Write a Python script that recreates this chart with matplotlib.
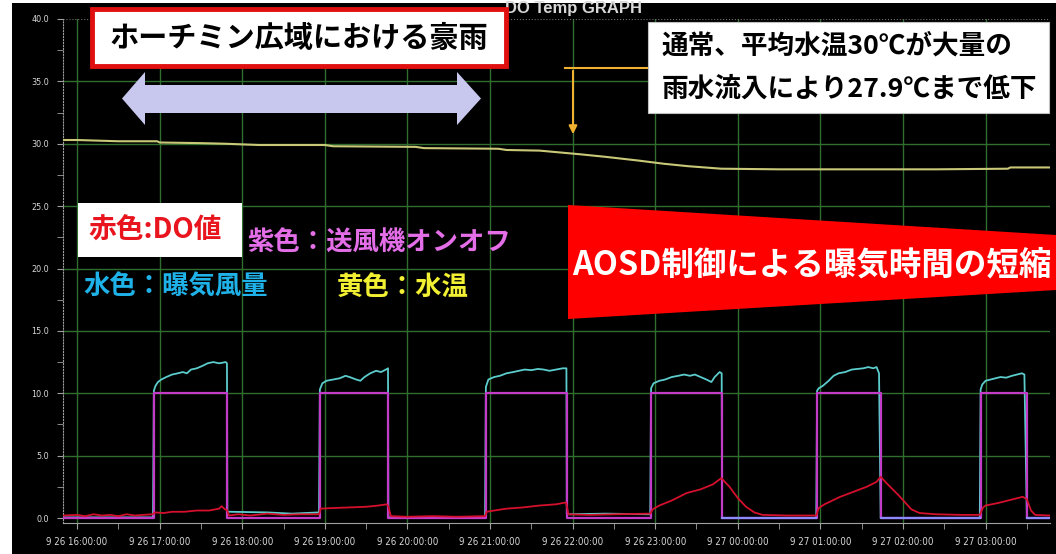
import numpy as np
import matplotlib
matplotlib.use('Agg')
import matplotlib.pyplot as plt
from matplotlib.patches import Rectangle, Polygon

plt.rcParams['font.family'] = ['Noto Sans CJK JP', 'DejaVu Sans']

# hours counted from 9/26 16:00
hour_ticks = list(range(12))
tick_labels = ['9 26 16:00:00', '9 26 17:00:00', '9 26 18:00:00', '9 26 19:00:00',
               '9 26 20:00:00', '9 26 21:00:00', '9 26 22:00:00', '9 26 23:00:00',
               '9 27 00:00:00', '9 27 01:00:00', '9 27 02:00:00', '9 27 03:00:00']

# blower on/off switching times
fan_on = [0.93, 2.94, 4.95, 6.95, 8.96, 10.94]
fan_off = [1.82, 3.77, 5.93, 7.81, 9.73, 11.50]
fan_level = 10.0

# aeration air flow
air_hours = [-0.17, 0.92,
             0.93, 0.95, 0.98, 1.02, 1.08, 1.15, 1.22, 1.28, 1.33, 1.38, 1.45, 1.52, 1.58, 1.65, 1.72, 1.80, 1.815,
             1.82, 1.85, 2.30, 2.60, 2.93,
             2.94, 2.97, 3.02, 3.10, 3.18, 3.25, 3.30, 3.38, 3.43, 3.48, 3.55, 3.62, 3.68, 3.74, 3.765,
             3.77, 3.80, 4.94,
             4.95, 4.98, 5.05, 5.12, 5.20, 5.28, 5.35, 5.42, 5.50, 5.58, 5.65, 5.72, 5.80, 5.88, 5.925,
             5.93, 5.96, 6.40, 6.94,
             6.95, 6.98, 7.05, 7.12, 7.20, 7.28, 7.35, 7.42, 7.48, 7.55, 7.62, 7.68, 7.72, 7.78, 7.805,
             7.81, 8.00, 8.95,
             8.96, 8.98, 9.03, 9.10, 9.16, 9.22, 9.30, 9.38, 9.45, 9.52, 9.58, 9.64, 9.68, 9.71,
             9.73, 10.00, 10.93,
             10.94, 10.96, 11.00, 11.06, 11.12, 11.18, 11.25, 11.32, 11.38, 11.44, 11.47,
             11.50, 11.78]
air_values = [0.05, 0.05,
              10.2, 10.6, 10.9, 11.1, 11.3, 11.5, 11.6, 11.7, 11.6, 11.9, 12.0, 12.2, 12.4, 12.5, 12.4, 12.5, 12.4,
              0.5, 0.5, 0.45, 0.35, 0.45,
              10.3, 10.8, 11.0, 11.1, 11.2, 11.4, 11.3, 11.1, 11.0, 11.3, 11.6, 11.8, 11.7, 11.9, 12.0,
              0.05, 0.05, 0.05,
              10.5, 11.1, 11.3, 11.4, 11.6, 11.7, 11.8, 11.9, 11.85, 11.95, 11.9, 11.8, 11.9, 12.0, 12.0,
              0.3, 0.3, 0.35, 0.3,
              10.4, 10.8, 11.0, 11.1, 11.3, 11.4, 11.5, 11.4, 11.5, 11.3, 11.1, 10.9, 11.3, 11.7, 11.6,
              0.0, 0.0, 0.0,
              10.2, 10.4, 10.6, 11.0, 11.4, 11.6, 11.7, 11.9, 11.95, 12.0, 12.1, 12.0, 12.1, 11.6,
              0.0, 0.0, 0.0,
              10.3, 10.7, 11.0, 11.1, 11.2, 11.3, 11.25, 11.4, 11.5, 11.6, 11.5,
              0.0, 0.0]

# dissolved oxygen
do_hours = [-0.17, 0.0, 0.1, 0.2, 0.3, 0.4, 0.5, 0.6, 0.7, 0.8, 0.92,
            0.94, 1.05, 1.15, 1.3, 1.45, 1.6, 1.72, 1.75, 1.79, 1.82,
            1.84, 1.95, 2.1, 2.3, 2.5, 2.7, 2.93,
            2.95, 3.1, 3.3, 3.5, 3.65, 3.75, 3.77,
            3.8, 4.0, 4.3, 4.6, 4.94,
            4.96, 5.05, 5.2, 5.4, 5.6, 5.8, 5.92,
            5.95, 6.2, 6.5, 6.94,
            6.97, 7.05, 7.2, 7.38, 7.55, 7.7, 7.8,
            7.9, 8.0, 8.1, 8.2, 8.3, 8.6, 8.95,
            8.98, 9.05, 9.24, 9.4, 9.56, 9.68, 9.73,
            9.8, 9.95, 10.1, 10.2, 10.4, 10.7, 10.93,
            10.97, 11.0, 11.15, 11.3, 11.45, 11.5, 11.55, 11.6, 11.78]
do_values = [0.2, 0.25, 0.15, 0.3, 0.2, 0.25, 0.15, 0.3, 0.2, 0.25, 0.3,
             0.45, 0.4, 0.5, 0.5, 0.6, 0.6, 0.75, 0.95, 0.7, 0.6,
             0.2, 0.3, 0.2, 0.35, 0.25, 0.3, 0.3,
             0.75, 0.8, 0.85, 0.9, 1.0, 1.1, 0.9,
             0.15, 0.1, 0.15, 0.1, 0.15,
             0.5, 0.6, 0.75, 0.85, 1.0, 1.1, 1.25,
             0.3, 0.25, 0.3, 0.35,
             0.7, 1.0, 1.4, 2.0, 2.3, 2.7, 3.2,
             2.5, 1.6, 0.9, 0.45, 0.25, 0.2, 0.2,
             0.8, 1.1, 1.7, 2.1, 2.5, 2.9, 3.3,
             2.8, 1.8, 0.7, 0.4, 0.3, 0.25, 0.25,
             0.85, 1.0, 1.2, 1.45, 1.7, 1.5, 0.6, 0.25, 0.2]

# water temperature
temp_hours = [-0.17, 0.0, 0.5, 0.97, 1.0, 1.5, 1.8, 2.2, 3.0, 3.1, 4.1, 4.2, 5.1, 5.2, 5.6,
              5.85, 6.1, 6.4, 6.8, 7.1, 7.4, 7.6, 7.8, 8.5, 9.5, 10.4, 11.27, 11.3, 11.78]
temp_values = [30.3, 30.3, 30.2, 30.2, 30.1, 30.05, 30.0, 29.9, 29.9, 29.8, 29.75, 29.65, 29.6, 29.5, 29.45,
               29.3, 29.15, 28.95, 28.65, 28.4, 28.2, 28.1, 28.0, 27.95, 27.95, 27.95, 28.0, 28.1, 28.1]

W, H = 1056, 554
fig = plt.figure(figsize=(W / 100, H / 100), dpi=100, facecolor='white')

# black screen background
fig.patches.append(Rectangle((12 / W, 0), 1 - 12 / W, 1 - 3 / H, transform=fig.transFigure,
                             facecolor='black', edgecolor='none', zorder=-5))

ax = fig.add_axes([63 / W, 1 - 523 / H, (1050 - 63) / W, (523 - 19) / H])
ax.set_facecolor('black')
ax.set_xlim(-0.17, 11.78)
ax.set_ylim(-0.4, 40.0)

# blower on/off step curve
fan_t = [-0.17]
fan_v = [0.0]
for t_on, t_off in zip(fan_on, fan_off):
    fan_t += [t_on, t_on, t_off, t_off]
    fan_v += [0.0, fan_level, fan_level, 0.0]
fan_t.append(11.78)
fan_v.append(0.0)

air_t = np.array(air_hours)
air_v = np.array(air_values)
ax.plot(air_t, air_v, color='#5ccccc', lw=1.3, zorder=3)
# fully stopped stretches show up blue on the logger screen
stopped = np.ma.masked_where(air_v > 0.02, air_v)
ax.plot(air_t, stopped, color='#8c8cff', lw=1.6, zorder=5)
ax.plot(fan_t, fan_v, color='#c23cc8', lw=1.6, zorder=4)
ax.plot(do_hours, do_values, color='#d4102c', lw=1.3, zorder=6)
ax.plot(temp_hours, temp_values, color='#c8c878', lw=1.5, zorder=3)

# grid
for h in hour_ticks:
    ax.axvline(h, color='#2f6e2f', lw=1.0, zorder=1)
for y in range(5, 40, 5):
    ax.axhline(y, color='#2f6e2f', lw=1.0, zorder=1)
ax.axhline(40, color='#707070', lw=0.8, ls=':', zorder=1)

ax.set_xticks(hour_ticks)
ax.set_xticklabels(tick_labels, fontsize=7, family='DejaVu Sans', fontstretch='condensed')
ax.set_xticks(np.arange(0.5, 11.6, 1.0), minor=True)
ax.set_yticks(np.arange(0, 40.1, 5))
ax.set_yticklabels(['%.1f' % v for v in np.arange(0, 40.1, 5)], fontsize=6.5,
                   family='DejaVu Sans', fontstretch='condensed')
ax.set_yticks(np.arange(2.5, 40, 5), minor=True)
ax.tick_params(axis='x', which='both', colors='#a0a0a0', length=4, pad=6, labelcolor='#d8d8d8')
ax.tick_params(axis='y', which='both', colors='#a0a0a0', length=4, pad=6, labelcolor='#d8d8d8')
for s in ['top', 'right']:
    ax.spines[s].set_visible(False)
ax.spines['bottom'].set_color('#a0a0a0')
ax.spines['left'].set_color('#a0a0a0')
ax.spines['left'].set_linestyle(':')

# annotation layer in pixel coordinates
ov = fig.add_axes([0, 0, 1, 1], facecolor='none')
ov.set_xlim(0, W)
ov.set_ylim(H, 0)
ov.axis('off')

ov.text(505, 13, 'DO Temp GRAPH', fontsize=12, fontweight='bold', color='#d8d8d8',
        family='Liberation Sans', va='baseline', ha='left', zorder=1)

ov.add_patch(Rectangle((92, 9), 414, 57, facecolor='white', edgecolor='#e01010', lw=3.5, zorder=3))
ov.text(299, 38, 'ホーチミン広域における豪雨', fontsize=21, fontweight='bold', color='black',
        ha='center', va='center', zorder=4)

arrow = [(122, 98.5), (145, 72), (145, 85), (457, 85), (457, 72), (481, 98.5),
         (457, 125), (457, 113), (145, 113), (145, 125)]
ov.add_patch(Polygon(arrow, closed=True, facecolor='#c8c8ee', edgecolor='none', zorder=3))

ov.plot([565, 650], [68, 68], color='#f0b030', lw=1.5, zorder=3)
ov.annotate('', xy=(573, 137), xytext=(573, 68),
            arrowprops=dict(arrowstyle='-|>', color='#f0b030', lw=1.5, mutation_scale=12), zorder=3)

ov.add_patch(Rectangle((648, 22), 401, 91, facecolor='white', edgecolor='#c0c0c0', lw=0.8, zorder=3))
ov.text(662, 46, '通常、平均水温30℃が大量の', fontsize=19.2, fontweight='bold', color='black',
        ha='left', va='center', zorder=4)
ov.text(662, 89, '雨水流入により27.9℃まで低下', fontsize=19.2, fontweight='bold', color='black',
        ha='left', va='center', zorder=4)

ov.add_patch(Rectangle((78, 203), 164, 54, facecolor='white', edgecolor='none', zorder=3))
ov.text(88, 231, '赤色:DO値', fontsize=20, fontweight='bold', color='#e8141e',
        ha='left', va='center', zorder=4)
ov.text(247, 243, '紫色：送風機オンオフ', fontsize=19, fontweight='bold', color='#e46ee8',
        ha='left', va='center', zorder=4)
ov.text(83, 287, '水色：曝気風量', fontsize=19, fontweight='bold', color='#1fb2e8',
        ha='left', va='center', zorder=4)
ov.text(337, 287, '黄色：水温', fontsize=19, fontweight='bold', color='#f2f032',
        ha='left', va='center', zorder=4)

ov.add_patch(Polygon([(568, 205), (1056, 235), (1056, 290), (568, 319)], closed=True,
                     facecolor='#ff0000', edgecolor='none', zorder=3))
ov.text(812, 265, 'AOSD制御による曝気時間の短縮', fontsize=23.4, fontweight='bold', color='white',
        ha='center', va='center', zorder=4)

fig.savefig('out.png', dpi=100, facecolor=fig.get_facecolor())
